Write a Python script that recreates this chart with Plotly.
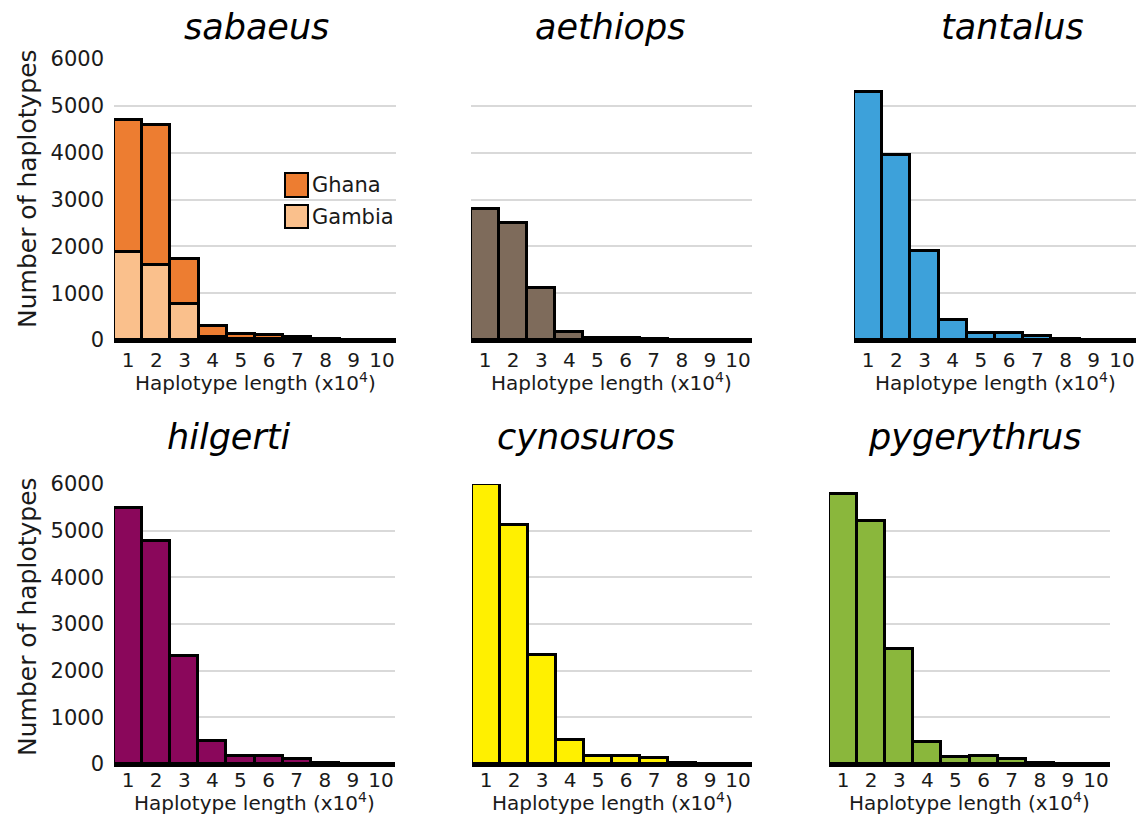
import plotly.graph_objects as go

W, H = 1146, 817

# Haplotype length bins (x10^4)
lengths = [1, 2, 3, 4, 5, 6, 7, 8, 9, 10]
tick_labels = ["1", "2", "3", "4", "5", "6", "7", "8", "9", "10"]

# Counts per bin
sabaeus_gambia = [1870, 1600, 770, 60, 30, 30, 15, 5, 3, 2]
sabaeus_ghana = [2830, 3000, 970, 230, 90, 80, 45, 15, 7, 3]
aethiops = [2800, 2500, 1120, 180, 50, 40, 20, 6, 3, 2]
tantalus = [5300, 3950, 1900, 420, 140, 150, 90, 20, 10, 5]
hilgerti = [5480, 4780, 2310, 500, 170, 180, 110, 20, 10, 5]
cynosuros = [5990, 5120, 2340, 520, 170, 180, 120, 20, 10, 5]
pygerythrus = [5780, 5200, 2460, 480, 150, 170, 100, 20, 10, 5]

y_ticks = [0, 1000, 2000, 3000, 4000, 5000, 6000]

FONT = "DejaVu Sans"
TXT = "#1a1a1a"
EDGE = dict(color="black", width=3)


def px_x(p):
    return p / W


def px_y(p):
    return 1 - p / H


# panel boxes in pixels: (left, right, top, bottom)
panels = [
    (114, 396, 59, 340),
    (471, 752, 59, 340),
    (854, 1136, 59, 340),
    (114, 395, 484, 764),
    (472, 752, 484, 764),
    (829, 1110, 484, 764),
]

series = [
    [("Gambia", sabaeus_gambia, "#FAC08C"), ("Ghana", sabaeus_ghana, "#ED7D31")],
    [("aethiops", aethiops, "#7E6B5B")],
    [("tantalus", tantalus, "#3DA1DA")],
    [("hilgerti", hilgerti, "#8A075B")],
    [("cynosuros", cynosuros, "#FFF000")],
    [("pygerythrus", pygerythrus, "#8AB73C")],
]

fig = go.Figure()
layout = {}

for i, ((l, r, t, b), group) in enumerate(zip(panels, series)):
    n = i + 1
    xa = "x" if n == 1 else f"x{n}"
    ya = "y" if n == 1 else f"y{n}"
    for name, vals, col in group:
        fig.add_trace(go.Bar(
            x=lengths, y=vals, name=name, xaxis=xa, yaxis=ya,
            marker=dict(color=col, line=EDGE), showlegend=False,
        ))
    left_col = i % 3 == 0
    bottom_row = i >= 3
    layout["xaxis" if n == 1 else f"xaxis{n}"] = dict(
        domain=[px_x(l), px_x(r)], anchor=ya, range=[0.5, 10.5],
        tickvals=lengths, ticktext=tick_labels, showline=True,
        linecolor="black", linewidth=3, showgrid=False, zeroline=False,
        ticks="", tickfont=dict(family=FONT, size=20, color=TXT),
        ticklabelstandoff=-4 if bottom_row else 0,
        automargin=False, fixedrange=True,
    )
    layout["yaxis" if n == 1 else f"yaxis{n}"] = dict(
        domain=[px_y(b), px_y(t)], anchor=xa, range=[0, 6000],
        tickvals=y_ticks, showticklabels=left_col, showgrid=True,
        gridcolor="#d9d9d9", gridwidth=2, zeroline=False, showline=False,
        ticks="", tickfont=dict(family=FONT, size=21, color=TXT),
        ticklabelstandoff=9, automargin=False, fixedrange=True,
    )

annotations = []

# panel titles
titles = [
    ("sabaeus", 256, 27), ("aethiops", 610, 27), ("tantalus", 1012, 27),
    ("hilgerti", 228, 437), ("cynosuros", 586, 437), ("pygerythrus", 975, 437),
]
for txt, cx, cy in titles:
    annotations.append(dict(
        text=f"<i>{txt}</i>", x=px_x(cx), y=px_y(cy), xref="paper", yref="paper",
        xanchor="center", yanchor="middle", showarrow=False,
        font=dict(family=FONT, size=35, color="black"),
    ))

# x axis titles (top row sits a little lower under its axis)
for k, (l, r, t, b) in enumerate(panels):
    gap = 42 if k < 3 else 38
    annotations.append(dict(
        text="Haplotype length (x10<sup>4</sup>)", x=px_x((l + r) / 2),
        y=px_y(b + gap), xref="paper", yref="paper", xanchor="center",
        yanchor="middle", showarrow=False,
        font=dict(family=FONT, size=20, color=TXT),
    ))

# y axis titles
for cy in (189, 617):
    annotations.append(dict(
        text="Number of haplotypes", x=px_x(27), y=px_y(cy), xref="paper",
        yref="paper", xanchor="center", yanchor="middle", textangle=-90,
        showarrow=False, font=dict(family=FONT, size=25, color=TXT),
    ))

# legend for the sabaeus panel
shapes = []
legend_items = [("Ghana", "#ED7D31", 173, 197), ("Gambia", "#FAC08C", 205, 228)]
for name, col, y0, y1 in legend_items:
    shapes.append(dict(
        type="rect", xref="paper", yref="paper",
        x0=px_x(285), x1=px_x(308), y0=px_y(y1), y1=px_y(y0),
        fillcolor=col, line=dict(color="black", width=2),
    ))
    annotations.append(dict(
        text=name, x=px_x(310), y=px_y((y0 + y1) / 2), xref="paper",
        yref="paper", xanchor="left", yanchor="middle", showarrow=False,
        font=dict(family=FONT, size=21, color=TXT),
    ))

fig.update_layout(
    width=W, height=H, margin=dict(l=0, r=0, t=0, b=0),
    paper_bgcolor="white", plot_bgcolor="white",
    barmode="stack", bargap=0, showlegend=False,
    annotations=annotations, shapes=shapes,
    **layout,
)

fig.write_html("out.html", config={"displayModeBar": False})
